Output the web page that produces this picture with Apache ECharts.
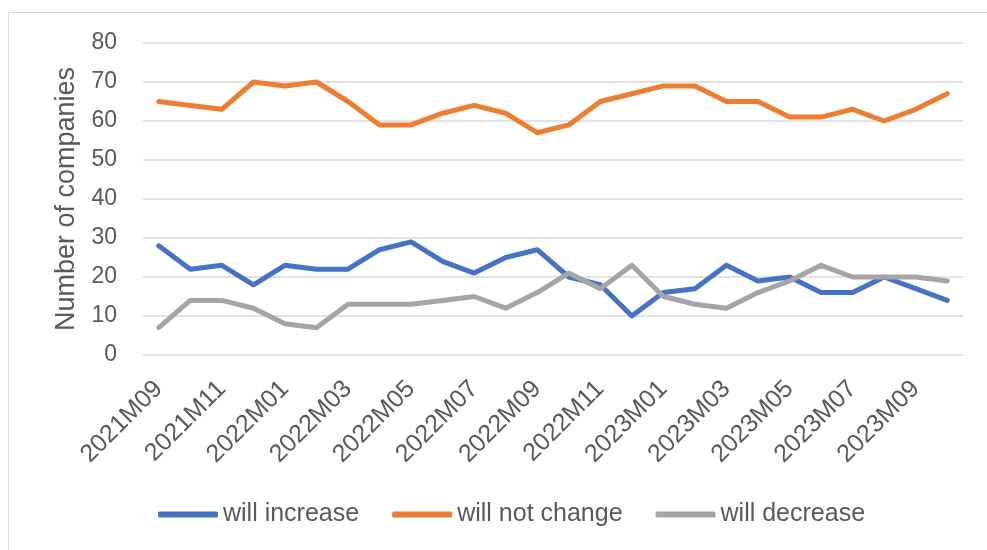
<!DOCTYPE html>
<html>
<head>
<meta charset="utf-8">
<script src="https://cdn.jsdelivr.net/npm/echarts@6/dist/echarts.min.js"></script>
<style>html,body{margin:0;padding:0;background:#fff}#c{width:987px;height:550px}</style>
</head>
<body>
<div id="c"></div>
<script>
const categories = ["2021M09","2021M10","2021M11","2021M12","2022M01","2022M02","2022M03","2022M04","2022M05","2022M06","2022M07","2022M08","2022M09","2022M10","2022M11","2022M12","2023M01","2023M02","2023M03","2023M04","2023M05","2023M06","2023M07","2023M08","2023M09","2023M10"];
const willIncrease = [28,22,23,18,23,22,22,27,29,24,21,25,27,20,18,10,16,17,23,19,20,16,16,20,17,14];
const willNotChange = [65,64,63,70,69,70,65,59,59,62,64,62,57,59,65,67,69,69,65,65,61,61,63,60,63,67];
const willDecrease = [7,14,14,12,8,7,13,13,13,14,15,12,16,21,17,23,15,13,12,16,19,23,20,20,20,19];
const yTicks = {min:0, max:80, interval:10};
const seriesNames = ["will increase","will not change","will decrease"];
const colors = ["#4472C4","#ED7D31","#A5A5A5"];
const FONT = "Liberation Sans";
const chart = echarts.init(document.getElementById('c'), null, {renderer:'canvas'});
const mk = (name, data, color) => ({
  name, type:'line', data, symbol:'none', showSymbol:false, smooth:false,
  lineStyle:{color, width:5, cap:'round', join:'round'},
  itemStyle:{color}
});
chart.setOption({
  animation:false,
  backgroundColor:'#fff',
  color: colors,
  graphic:[{type:'rect', shape:{x:8.5,y:12.5,width:1000,height:600}, style:{fill:null, stroke:'#d9d9d9', lineWidth:1}, silent:true}],
  grid:{left:143, right:24, top:43, bottom:195, containLabel:false},
  legend:{
    bottom:18, left:153, itemWidth:60, itemHeight:6, itemGap:33, icon:'roundRect',
    textStyle:{fontFamily:FONT, fontSize:25, color:'#595959'},
    data: seriesNames
  },
  xAxis:{
    type:'category', data:categories, boundaryGap:true,
    axisLine:{show:false}, axisTick:{show:false},
    axisLabel:{interval:1, rotate:45, fontFamily:FONT, fontSize:25, color:'#595959', margin:30}
  },
  yAxis:{
    type:'value', min:yTicks.min, max:yTicks.max, interval:yTicks.interval,
    name:'Number of companies', nameLocation:'middle', nameGap:63,
    nameTextStyle:{fontFamily:FONT, fontSize:27, color:'#595959'},
    axisLine:{show:false}, axisTick:{show:false},
    axisLabel:{fontFamily:FONT, fontSize:23, color:'#595959', margin:26},
    splitLine:{lineStyle:{color:'#d9d9d9', width:1.5}}
  },
  series:[
    mk(seriesNames[0], willIncrease, colors[0]),
    mk(seriesNames[1], willNotChange, colors[1]),
    mk(seriesNames[2], willDecrease, colors[2])
  ]
});
</script>
</body>
</html>
